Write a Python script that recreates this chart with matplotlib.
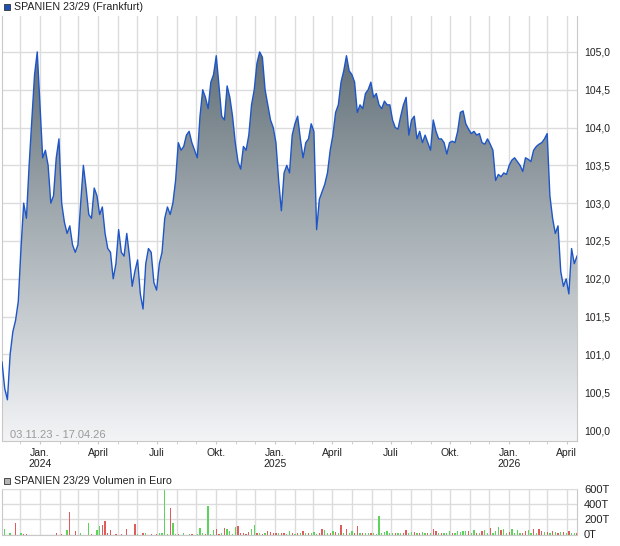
import numpy as np
import pandas as pd
import matplotlib
matplotlib.use("Agg")
import matplotlib.pyplot as plt
import matplotlib.dates as mdates
from matplotlib.colors import LinearSegmentedColormap
from matplotlib.patches import Rectangle

plt.rcParams['font.family'] = ['Liberation Sans', 'DejaVu Sans']

# ---------------- data ----------------
title = "SPANIEN 23/29 (Frankfurt)"
vol_title = "SPANIEN 23/29 Volumen in Euro"
range_label = "03.11.23 - 17.04.26"
start_date = "2023-11-03"
end_date = "2026-04-17"

price = [
    100.9, 100.55, 100.4, 101.0, 101.3, 101.45, 101.7, 102.4, 103.0, 102.8,
    103.5, 104.1, 104.7, 105.0, 104.3, 103.6, 103.7, 103.5, 103.0, 103.1,
    103.6, 103.85, 103.0, 102.75, 102.6, 102.7, 102.45, 102.35, 102.45, 103.0,
    103.5, 103.2, 102.85, 102.8, 103.2, 103.1, 102.85, 102.95, 102.6, 102.4,
    102.35, 102.0, 102.2, 102.65, 102.35, 102.3, 102.6, 102.3, 101.9, 102.1,
    102.25, 101.8, 101.6, 102.2, 102.4, 102.35, 101.95, 101.85, 102.2, 102.35,
    102.8, 102.95, 102.85, 103.0, 103.3, 103.8, 103.7, 103.75, 103.9, 103.95,
    103.8, 103.7, 103.6, 104.15, 104.5, 104.4, 104.25, 104.6, 104.7, 104.95,
    104.55, 104.15, 104.1, 104.55, 104.4, 104.15, 103.8, 103.55, 103.45, 103.75,
    103.7, 103.9, 104.3, 104.5, 104.85, 105.0, 104.93, 104.5, 104.3, 104.1,
    104.0, 103.8, 103.3, 102.9, 103.4, 103.5, 103.4, 103.9, 104.05, 104.15,
    103.85, 103.6, 103.8, 103.85, 104.05, 103.95, 102.65, 103.05, 103.15, 103.25,
    103.4, 103.7, 103.9, 104.2, 104.3, 104.6, 104.75, 104.95, 104.75, 104.7,
    104.6, 104.2, 104.3, 104.25, 104.45, 104.5, 104.6, 104.4, 104.45, 104.3,
    104.25, 104.35, 104.3, 104.3, 104.1, 104.0, 103.98, 104.15, 104.3, 104.4,
    103.9, 104.1, 104.15, 103.85, 103.95, 103.8, 103.9, 103.8, 103.7, 104.1,
    103.95, 103.85, 103.85, 103.8, 103.65, 103.8, 103.82, 103.8, 103.95, 104.2,
    104.22, 104.05, 103.98, 103.92, 103.95, 103.9, 103.92, 103.8, 103.78, 103.85,
    103.78, 103.7, 103.3, 103.38, 103.35, 103.4, 103.38, 103.5, 103.57, 103.6,
    103.55, 103.5, 103.42, 103.6, 103.58, 103.55, 103.7, 103.75, 103.78, 103.8,
    103.85, 103.92, 103.1, 102.8, 102.6, 102.7, 102.1, 101.9, 102.0, 101.8,
    102.4, 102.2, 102.3,
]

# volume in thousand euro; sign = day direction (+ up / - down)
volume_k = [
    0, 78, 0, 20, 0, -157, 0, 26, -5, -3,
    0, 0, 0, 0, 0, 0, 0, 0, 0, 0,
    -26, 0, -10, 0, 65, -291, 0, -43, 0, 20,
    0, 0, 157, -5, 0, 65, 109, -130, -174, -26,
    -56, 0, -8, 0, -8, 0, -78, 0, 0, -143,
    8, 0, -15, 20, 0, -5, 0, -8, 20, 25,
    600, 5, -352, 157, 10, -5, 0, 20, 0, 10,
    -5, 0, 5, 91, 20, -5, 378, 5, 56, -78,
    -10, 15, -91, 70, 52, 10, 100, -117, -15, -20,
    -5, -35, 78, 130, -15, 20, -10, 25, -52, -35,
    -25, -20, 15, -25, -20, 10, 52, -15, 10, -15,
    20, -52, 15, -20, 20, 35, 10, -25, -78, 56,
    15, -20, 52, -35, 20, -130, 25, -78, 15, 43,
    -20, -117, 15, -20, 25, 20, -15, 20, 10, 248,
    15, 35, 48, 20, 15, -22, 20, 15, -15, -61,
    15, 35, -35, 20, -15, 35, 20, -20, 15, -78,
    -52, 20, -15, 25, 15, 43, -20, 25, 43, 35,
    40, 52, -52, 20, 61, -20, 25, -43, 56, 20,
    -87, 20, 52, 100, -65, 78, 25, -30, 78, 20,
    56, 20, -25, -52, 56, 20, -78, 25, -70, -43,
    30, -35, 25, -40, 30, -25, 35, -30, 25, -43,
    20, 25, -15,
]

tick_dates = ["2024-01-01", "2024-04-01", "2024-07-01", "2024-10-01",
              "2025-01-01", "2025-04-01", "2025-07-01", "2025-10-01",
              "2026-01-01", "2026-04-01"]
tick_labels = ["Jan.\n2024", "April", "Juli", "Okt.",
               "Jan.\n2025", "April", "Juli", "Okt.",
               "Jan.\n2026", "April"]
price_ticks = [100.0, 100.5, 101.0, 101.5, 102.0, 102.5, 103.0, 103.5, 104.0, 104.5, 105.0]
price_tick_labels = ["100,0", "100,5", "101,0", "101,5", "102,0", "102,5",
                     "103,0", "103,5", "104,0", "104,5", "105,0"]
vol_ticks = [0, 200, 400, 600]
vol_tick_labels = ["0T", "200T", "400T", "600T"]

# ---------------- figure ----------------
W, H = 620, 546
fig = plt.figure(figsize=(W / 100, H / 100), dpi=100)
fig.patch.set_facecolor("white")


def rect(l, t, r, b):
    return [l / W, 1 - b / H, (r - l) / W, (b - t) / H]


ax = fig.add_axes(rect(2, 16, 577, 441))
axv = fig.add_axes(rect(2, 489, 577, 534.5))

dates = pd.date_range(start_date, end_date, periods=len(price))
x = mdates.date2num(dates)
y = np.array(price)
ylo, yhi = 99.855, 105.475

grid_c = "#dcdcdc"
spine_c = "#c8c8c8"

# gradient fill clipped under the price line
cmap = LinearSegmentedColormap.from_list("g", ["#f3f4f6", "#a6afb4", "#55636c"])
grad = np.linspace(0, 1, 256).reshape(-1, 1)
im = ax.imshow(grad, extent=[x[0], x[-1], ylo, yhi], origin="lower",
               aspect="auto", cmap=cmap, zorder=1, interpolation="bilinear")
poly = ax.fill_between(x, y, ylo, facecolor="none", edgecolor="none", zorder=1)
im.set_clip_path(poly.get_paths()[0], transform=ax.transData)
ax.plot(x, y, color="#1e56c8", lw=1.0, zorder=3)

month_locs = mdates.MonthLocator()
for a in (ax, axv):
    a.set_xlim(x[0], x[-1])
    a.xaxis.set_minor_locator(month_locs)
    a.grid(True, which="minor", axis="x", color=grid_c, lw=1.0, zorder=0)
    a.grid(True, which="major", axis="both", color=grid_c, lw=1.0, zorder=0)
    a.set_axisbelow(True)
    a.set_facecolor("white")
    for s in ("left", "right", "bottom"):
        a.spines[s].set_color(spine_c)
    a.spines["top"].set_visible(False)
    a.yaxis.tick_right()
    a.tick_params(axis="y", length=0, pad=5, labelsize=7.5, labelcolor="#222222")

ax.set_ylim(ylo, yhi)
ax.set_yticks(price_ticks)
ax.set_yticklabels(price_tick_labels)
tick_x = mdates.date2num(pd.to_datetime(tick_dates))
ax.set_xticks(tick_x)
ax.set_xticklabels(tick_labels, fontsize=7.5, color="#222222", linespacing=1.15)
ax.tick_params(axis="x", which="both", length=2, color=spine_c, pad=3)

vol = np.array(volume_k, dtype=float)
colors = ["#5cd45c" if v >= 0 else "#e05c5c" for v in vol]
axv.bar(x, np.abs(vol), width=2.0, color=colors, zorder=2, linewidth=0)
axv.set_ylim(0, 600)
axv.set_yticks(vol_ticks)
axv.set_yticklabels(vol_tick_labels)
axv.tick_params(axis="y", labelsize=8)
axv.set_xticks(tick_x)
axv.tick_params(axis="x", which="both", length=0, labelbottom=False)
axv.spines["top"].set_visible(True)
axv.spines["top"].set_color(grid_c)

# legends / labels
fig.add_artist(Rectangle((4 / W, 1 - 10 / H), 6 / W, 6 / H, transform=fig.transFigure,
                         facecolor="#1f4fb0", edgecolor="#333333", lw=0.6))
fig.text(14 / W, 1 - 6.5 / H, title, fontsize=7.7, va="center", ha="left", color="#222222")
fig.add_artist(Rectangle((4 / W, 1 - 484 / H), 6 / W, 6 / H, transform=fig.transFigure,
                         facecolor="#b4b4b4", edgecolor="#333333", lw=0.6))
fig.text(14 / W, 1 - 480.5 / H, vol_title, fontsize=7.7, va="center", ha="left", color="#222222")
ax.text(8 / 575, (441 - 435) / 425, range_label, transform=ax.transAxes,
        fontsize=8, color="#9a9a9a", va="center", ha="left", zorder=4)

fig.savefig("out.png", dpi=100)
